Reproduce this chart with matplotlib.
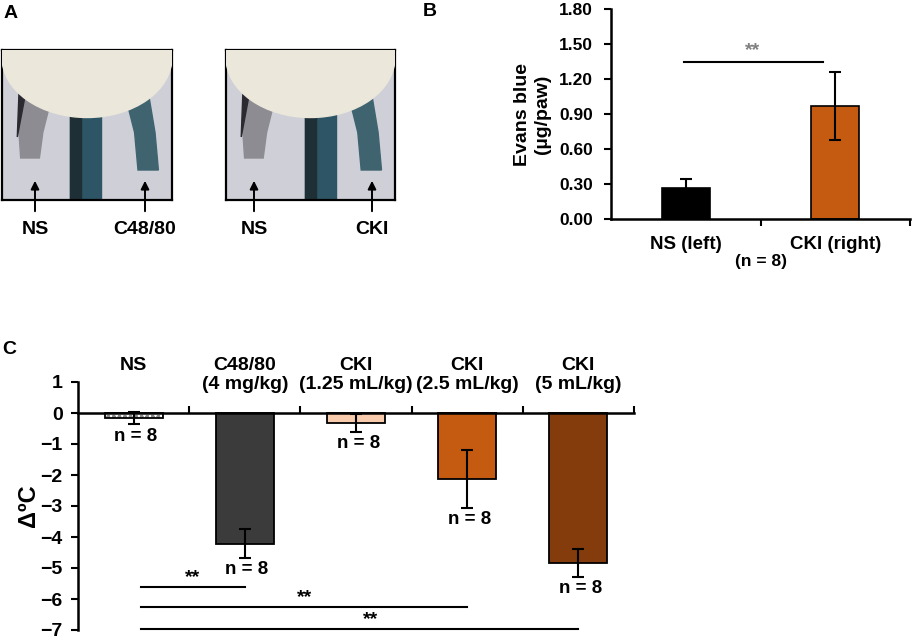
import numpy as np
import matplotlib.pyplot as plt
from matplotlib.patches import Rectangle, Ellipse, Polygon

plt.rcParams['font.family'] = ['Liberation Sans', 'DejaVu Sans']
plt.rcParams['font.weight'] = 'bold'

# panel B data
b_groups = ['NS (left)', 'CKI (right)']
b_means = [0.27, 0.97]
b_errs = [0.07, 0.29]
b_colors = ['#000000', '#c55a11']

# panel C data
c_groups = ['NS', 'C48/80\n(4 mg/kg)', 'CKI\n(1.25 mL/kg)', 'CKI\n(2.5 mL/kg)', 'CKI\n(5 mL/kg)']
c_means = [-0.17, -4.22, -0.32, -2.13, -4.84]
c_errs = [0.2, 0.47, 0.29, 0.93, 0.46]
c_colors = ['#ffffff', '#3b3b3b', '#f8cbad', '#c55a11', '#843c0c']
c_n = [8, 8, 8, 8, 8]

W, H = 913, 639
fig = plt.figure(figsize=(W / 100, H / 100), dpi=100)


def ax_px(x0, y0, x1, y1, **kw):
    return fig.add_axes([x0 / W, 1 - y1 / H, (x1 - x0) / W, (y1 - y0) / H], **kw)


# overlay in pixel coordinates (on top) for panel letters and panel A annotations
ov = ax_px(0, 0, W, H, zorder=5)
ov.set_xlim(0, W)
ov.set_ylim(H, 0)
ov.axis('off')
ov.patch.set_alpha(0)
for lab, x, y in [('A', 4, 14), ('B', 423, 12), ('C', 2, 350)]:
    ov.text(x, y, lab, fontsize=14, fontweight='bold', va='center', ha='left')


# ---- panel A: sketched photos ----
def paw_photo(x0, y0, x1, y1, tail):
    a = ax_px(x0, y0, x1, y1, zorder=2)
    a.set_xlim(0, 1)
    a.set_ylim(0, 1)
    a.set_xticks([])
    a.set_yticks([])
    a.set_facecolor('#cfcfd8')
    for s in a.spines.values():
        s.set_linewidth(1.6)
    # tail
    a.add_patch(Rectangle((tail[0], 0), tail[1] - tail[0], 0.62, color='#2d5566', zorder=2))
    a.add_patch(Rectangle((tail[0], 0), (tail[1] - tail[0]) * 0.35, 0.62, color='#1f2f36', zorder=2))
    # left paw
    a.add_patch(Polygon([[0.13, 0.72], [0.30, 0.72], [0.24, 0.45], [0.22, 0.28],
                         [0.11, 0.28], [0.10, 0.45]], color='#8d8c92', zorder=2))
    a.add_patch(Polygon([[0.10, 0.72], [0.14, 0.72], [0.09, 0.42]], color='#2a2a30', zorder=2))
    # right paw
    a.add_patch(Polygon([[0.72, 0.72], [0.86, 0.72], [0.90, 0.45], [0.92, 0.20],
                         [0.80, 0.20], [0.78, 0.45]], color='#3f6470', zorder=2))
    # body
    a.add_patch(Ellipse((0.5, 0.95), 1.0, 0.8, color='#ebe7da', zorder=3))
    return a


paw_photo(2, 50, 172, 200, (0.40, 0.58))
paw_photo(226, 50, 395, 200, (0.47, 0.65))

for x, lab in [(35, 'NS'), (145, 'C48/80'), (254, 'NS'), (372, 'CKI')]:
    ov.annotate('', xy=(x, 178), xytext=(x, 214),
                arrowprops=dict(arrowstyle='-|>', color='black', lw=1.4, mutation_scale=12))
    ov.text(x, 229, lab, fontsize=14, fontweight='bold', ha='center', va='center')

# ---- panel B ----
axb = ax_px(611, 9, 910, 219, zorder=2)
xb = np.arange(len(b_groups))
axb.bar(xb, b_means, width=0.32, color=b_colors, edgecolor='black', linewidth=1.2, zorder=2)
axb.errorbar(xb, b_means, yerr=b_errs, fmt='none', ecolor='black', elinewidth=1.5,
             capsize=4, capthick=1.5, zorder=3)
axb.set_xlim(-0.5, 1.5)
axb.set_ylim(0, 1.8)
axb.set_yticks(np.arange(0, 1.81, 0.3))
axb.set_yticklabels([f'{v:.2f}' for v in np.arange(0, 1.81, 0.3)])
axb.set_xticks(xb)
axb.set_xticklabels(b_groups, fontsize=13.5)
axb.set_xticks([0.5, 1.5], minor=True)
axb.tick_params(axis='x', which='major', length=0, pad=12)
axb.tick_params(axis='x', which='minor', length=5, width=1.5, direction='out')
axb.tick_params(axis='y', labelsize=12.5, width=1.5, length=5, pad=8)
for s in ['top', 'right']:
    axb.spines[s].set_visible(False)
for s in ['left', 'bottom']:
    axb.spines[s].set_linewidth(1.8)
axb.set_ylabel('Evans blue\n(µg/paw)', fontsize=14, fontweight='bold', labelpad=6)
axb.plot([-0.01, 0.92], [1.345, 1.345], color='black', lw=1.5, clip_on=False)
axb.text(0.45, 1.37, '**', color='#808080', fontsize=14, ha='center', va='bottom')
axb.text(0.5, -0.36, '(n = 8)', fontsize=12.5, ha='center', va='center')

# ---- panel C ----
axc = ax_px(78, 382, 634, 630, zorder=2)
xc = np.arange(len(c_groups))
axc.bar(xc[0], c_means[0], width=0.52, color='white', hatch='ooo', edgecolor='#8a8a8a',
        linewidth=0, zorder=2)
axc.bar(xc, c_means, width=0.52, color=[c if i else 'none' for i, c in enumerate(c_colors)],
        edgecolor='black', linewidth=1.3, zorder=2)
axc.errorbar(xc, c_means, yerr=c_errs, fmt='none', ecolor='black', elinewidth=1.5,
             capsize=4, capthick=1.5, zorder=3)
axc.set_xlim(-0.5, 4.5)
axc.set_ylim(-7, 1)
axc.set_yticks(range(-7, 2))
axc.tick_params(axis='y', labelsize=14, width=1.5, length=5, pad=6)
axc.spines['bottom'].set_position(('data', 0))
axc.set_xticks(np.arange(0.5, 5, 1))
axc.set_xticklabels([])
axc.tick_params(axis='x', length=5, width=1.5, direction='in')
for s in ['top', 'right']:
    axc.spines[s].set_visible(False)
for s in ['left', 'bottom']:
    axc.spines[s].set_linewidth(1.8)
axc.set_ylabel('ΔºC', fontsize=17, fontweight='bold', labelpad=0)
for i, g in enumerate(c_groups):
    axc.text(xc[i], 1.82, g, fontsize=14, ha='center', va='top', linespacing=1.2,
             clip_on=False)
    axc.text(xc[i] + 0.02, c_means[i] - c_errs[i] - 0.1, f'n = {c_n[i]}', fontsize=13.5,
             ha='center', va='top')

sig = [(1, -5.6, 0.53), (3, -6.25, 1.54), (4, -6.97, 2.13)]
for j, y, tx in sig:
    axc.plot([0.07, xc[j]], [y, y], color='black', lw=1.5, clip_on=False)
    axc.text(tx, y + 0.03, '**', fontsize=14, ha='center', va='bottom')

fig.savefig('out.png', dpi=100)
